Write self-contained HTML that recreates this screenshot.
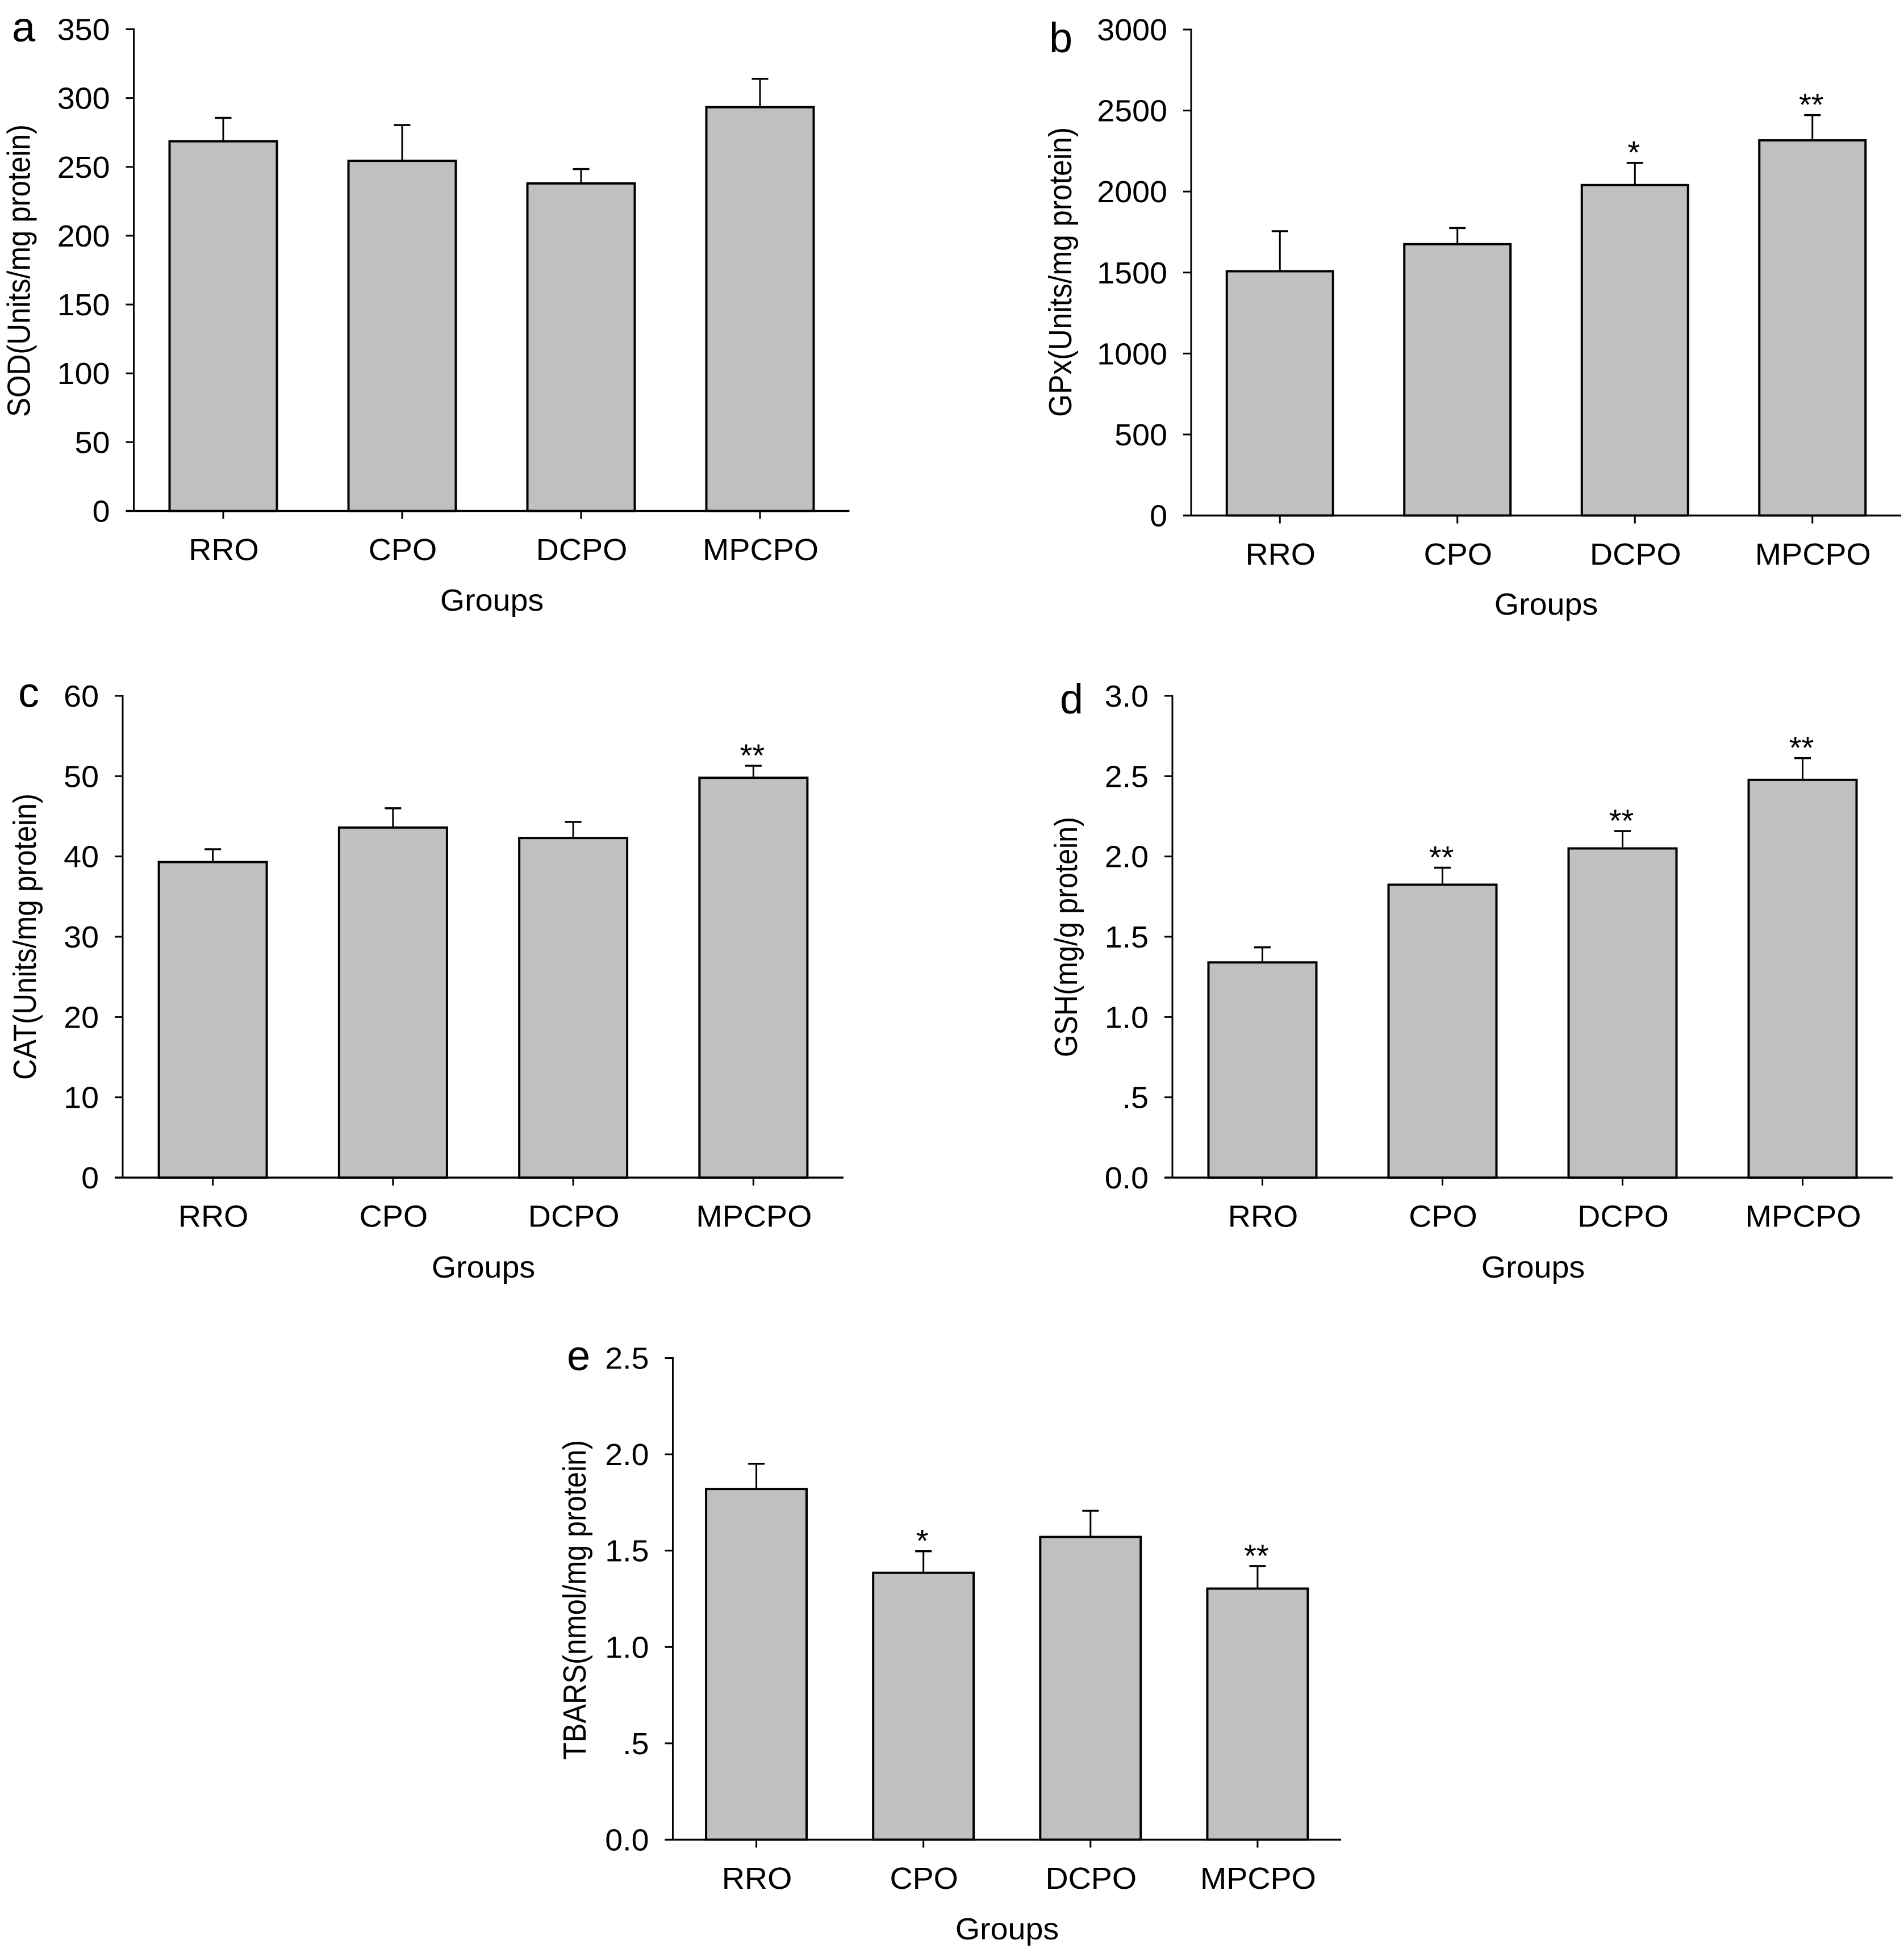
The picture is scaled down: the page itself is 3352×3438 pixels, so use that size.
<!DOCTYPE html>
<html lang="en">
<head>
<meta charset="utf-8">
<title>Antioxidant enzyme bar charts</title>
<style>
html,body{margin:0;padding:0;background:#fff;}
svg{display:block;}
text{font-family:"Liberation Sans",Arial,sans-serif;fill:#000;}
</style>
</head>
<body>
<svg id="figure" xmlns="http://www.w3.org/2000/svg" width="3352" height="3438" viewBox="0 0 3352 3438"></svg>
<script>
const categories = ['RRO', 'CPO', 'DCPO', 'MPCPO'];

const sodValues = [268.6, 254.4, 238, 293.4];
const sodErrors = [17, 26, 10.4, 20.6];
const sodStars = ['', '', '', ''];
const sodTicks = [0, 50, 100, 150, 200, 250, 300, 350];
const sodTickLabels = ['0', '50', '100', '150', '200', '250', '300', '350'];

const gpxValues = [1508, 1675, 2040, 2316];
const gpxErrors = [247, 100, 137, 156];
const gpxStars = ['', '', '*', '**'];
const gpxTicks = [0, 500, 1000, 1500, 2000, 2500, 3000];
const gpxTickLabels = ['0', '500', '1000', '1500', '2000', '2500', '3000'];

const catValues = [39.3, 43.6, 42.3, 49.8];
const catErrors = [1.6, 2.4, 2, 1.5];
const catStars = ['', '', '', '**'];
const catTicks = [0, 10, 20, 30, 40, 50, 60];
const catTickLabels = ['0', '10', '20', '30', '40', '50', '60'];

const gshValues = [1.34, 1.824, 2.05, 2.477];
const gshErrors = [0.094, 0.106, 0.108, 0.135];
const gshStars = ['', '**', '**', '**'];
const gshTicks = [0, 0.5, 1, 1.5, 2, 2.5, 3];
const gshTickLabels = ['0.0', '.5', '1.0', '1.5', '2.0', '2.5', '3.0'];

const tbarsValues = [1.82, 1.385, 1.571, 1.303];
const tbarsErrors = [0.131, 0.112, 0.136, 0.117];
const tbarsStars = ['', '*', '', '**'];
const tbarsTicks = [0, 0.5, 1, 1.5, 2, 2.5];
const tbarsTickLabels = ['0.0', '.5', '1.0', '1.5', '2.0', '2.5'];

const panels = [
  {id:'a', title:'SOD(Units/mg protein)', values:sodValues, errors:sodErrors, stars:sodStars, ticks:sodTicks, labels:sodTickLabels,
   x0:235.5, x1:1495.5, yTop:51.5, yZero:899.5, bw:189, lx:21, ly:73, tx:52.7, tStart:734, tLen:515, gx:866, gy:1075},
  {id:'b', title:'GPx(Units/mg protein)', values:gpxValues, errors:gpxErrors, stars:gpxStars, ticks:gpxTicks, labels:gpxTickLabels,
   x0:2097, x1:3347, yTop:52, yZero:907.5, bw:187, lx:1847, ly:92, tx:1886, tStart:734, tLen:510, gx:2722, gy:1082},
  {id:'c', title:'CAT(Units/mg protein)', values:catValues, errors:catErrors, stars:catStars, ticks:catTicks, labels:catTickLabels,
   x0:216, x1:1485, yTop:1225, yZero:2073, bw:190, lx:32, ly:1244.5, tx:63, tStart:1901, tLen:504, gx:851, gy:2249},
  {id:'d', title:'GSH(mg/g protein)', values:gshValues, errors:gshErrors, stars:gshStars, ticks:gshTicks, labels:gshTickLabels,
   x0:2064, x1:3332, yTop:1225, yZero:2073, bw:190, lx:1866, ly:1256, tx:1896, tStart:1861, tLen:423, gx:2699, gy:2249},
  {id:'e', title:'TBARS(nmol/mg protein)', values:tbarsValues, errors:tbarsErrors, stars:tbarsStars, ticks:tbarsTicks, labels:tbarsTickLabels,
   x0:1184.5, x1:2361, yTop:2390.5, yZero:3238.5, bw:177, lx:998, ly:2412, tx:1031, tStart:3098, tLen:563, gx:1773, gy:3414}
];

const NS = 'http://www.w3.org/2000/svg';
const FONT = 54;
const STRETCH = 1.03;
const svg = document.getElementById('figure');

function mk(parent, tag, attrs, content) {
  const el = document.createElementNS(NS, tag);
  for (const k in attrs) el.setAttribute(k, attrs[k]);
  if (content !== undefined) el.textContent = content;
  parent.appendChild(el);
  return el;
}

function stretched(x, y, anchor) {
  return { 'transform': 'translate(' + x + ' ' + y + ') scale(' + STRETCH + ' 1)', 'text-anchor': anchor, 'font-size': FONT };
}

function drawPanel(p) {
  const domainMax = p.ticks[p.ticks.length - 1];
  const yScale = v => p.yZero - (v / domainMax) * (p.yZero - p.yTop);
  const band = (p.x1 - p.x0) / categories.length;
  const xScale = i => p.x0 + band * (i + 0.5);

  const g = mk(svg, 'g', {});
  
  

  categories.forEach((cat, i) => {
    const cx = xScale(i);
    const top = yScale(p.values[i]);
    const errTop = yScale(p.values[i] + p.errors[i]);

    const stem = mk(g, 'line', {x1:cx, x2:cx, y1:top, y2:errTop, stroke:'#000', 'stroke-width':3});
    
    

    const cap = mk(g, 'line', {x1:cx - 14.5, x2:cx + 14.5, y1:errTop, y2:errTop, stroke:'#000', 'stroke-width':3.5});
    
    

    const bar = mk(g, 'rect', {x:cx - p.bw / 2, y:top, width:p.bw, height:p.yZero - top, fill:'#c0c0c0', stroke:'#000', 'stroke-width':4});
    
    

    const tick = mk(g, 'line', {x1:cx, x2:cx, y1:p.yZero, y2:p.yZero + 14, stroke:'#000', 'stroke-width':3});
    
    

    const lab = mk(g, 'text', stretched(cx + 1, p.yZero + 86.5, 'middle'), cat);
    
    

    if (p.stars[i]) {
      const star = mk(g, 'text', {x:cx - 2, y:errTop + 1, 'text-anchor':'middle', 'font-size':56}, p.stars[i]);
      
      
    }
  });

  const yAxis = mk(g, 'line', {x1:p.x0, x2:p.x0, y1:p.yTop - 1.5, y2:p.yZero, stroke:'#000', 'stroke-width':3});
  
  

  const xAxis = mk(g, 'line', {x1:p.x0 - 14, x2:p.x1, y1:p.yZero, y2:p.yZero, stroke:'#000', 'stroke-width':3.5});
  
  

  p.ticks.forEach((t, i) => {
    const y = yScale(t);
    if (t !== 0) {
      const tk = mk(g, 'line', {x1:p.x0 - 14, x2:p.x0, y1:y, y2:y, stroke:'#000', 'stroke-width':3});
      
      
    }
    const lb = mk(g, 'text', stretched(p.x0 - 42, y + 19, 'end'), p.labels[i]);
    
    
  });

  const yTitle = mk(g, 'text', {
    transform:'translate(' + p.tx + ' ' + p.tStart + ') rotate(-90)',
    'font-size':57, textLength:p.tLen, lengthAdjust:'spacingAndGlyphs'
  }, p.title);
  
  

  const xTitle = mk(g, 'text', stretched(p.gx, p.gy, 'middle'), 'Groups');
  
  

  const panelLabel = mk(g, 'text', {x:p.lx, y:p.ly, 'font-size':74}, p.id);
  
  
}

panels.forEach(drawPanel);
</script>
</body>
</html>
